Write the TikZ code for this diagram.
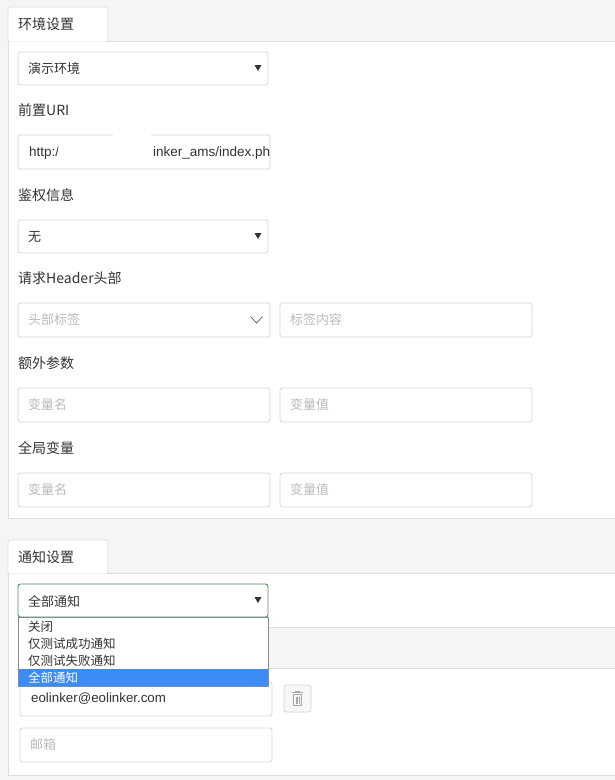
\documentclass[tikz,border=0pt]{standalone}
\usepackage{fontspec}
\setmainfont{Liberation Sans}
\newfontfamily\cjk{Noto Sans CJK SC}
\definecolor{bg}{HTML}{F5F5F5}
\definecolor{bd}{HTML}{DDDDDD}
\definecolor{ibd}{HTML}{D5D5D5}
\definecolor{txt}{HTML}{333333}
\definecolor{ph}{HTML}{BBBBBB}
\definecolor{hl}{HTML}{3D8BF5}
\definecolor{grn}{HTML}{5B8A5B}
\definecolor{lbd}{HTML}{7E8E9E}
\definecolor{band}{HTML}{F6F6F6}
\tikzset{
  inbox/.style={draw=ibd, fill=white, rounded corners=2.5pt, line width=0.8pt},
  lbl/.style={anchor=west, inner sep=0pt, text=txt, font=\cjk\fontsize{14}{16}\selectfont},
  val/.style={anchor=west, inner sep=0pt, text=txt, font=\cjk\fontsize{13}{15}\selectfont},
  phd/.style={anchor=west, inner sep=0pt, text=ph, font=\cjk\fontsize{13}{15}\selectfont},
  opt/.style={anchor=west, inner sep=0pt, text=txt, font=\cjk\fontsize{12.5}{14}\selectfont},
  tri/.style={fill=txt, draw=none},
}
\begin{document}
\begin{tikzpicture}[x=1pt,y=-1pt]
\useasboundingbox (0,0) rectangle (615,780);
\fill[bg] (0,0) rectangle (615,780);
% ---------- panel 1 ----------
\fill[white] (8,41) rectangle (620,518);
\draw[bd, line width=0.8pt] (8,518) -- (8,41) -- (620,41);
\draw[bd, line width=0.8pt] (8,518) -- (620,518);
\fill[white, rounded corners=2pt] (8,41.5) -- (8,7) -- (108,7) -- (108,41.5) -- cycle;
\draw[bd, line width=0.8pt, rounded corners=2pt] (8,41) -- (8,7) -- (108,7) -- (108,41);
\node[lbl] (tab1) at (18,24) {环境设置};
% env select
\draw[inbox] (18,52) rectangle (268,85);
\node[val] (envv) at (28,69) {演示环境};
\fill[tri] (254.5,65) -- (261.5,65) -- (258,71) -- cycle;
% URI
\node[lbl] (luri) at (18,110) {前置URI};
\draw[inbox] (18,135) rectangle (270,169);
\begin{scope}
\clip (19,136) rectangle (269,168);
\node[anchor=west, inner sep=0pt, text=txt, font=\fontsize{13.5}{15}\selectfont] (uri1) at (29,153) {http://};
\node[anchor=west, inner sep=0pt, text=txt, font=\fontsize{13.5}{15}\selectfont] (uri2) at (150,153) {linker\_ams/index.php};
\end{scope}
\fill[white, rounded corners=8pt] (60,140) rectangle (153,164);
\fill[white, rounded corners=8pt] (112,131) rectangle (152,161);
\fill[white, rounded corners=6pt] (58,143) rectangle (118,166);
% auth
\node[lbl] (lauth) at (18,195) {鉴权信息};
\draw[inbox] (18,220) rectangle (268,253);
\node[val] (authv) at (28,237) {无};
\fill[tri] (254.5,233) -- (261.5,233) -- (258,239) -- cycle;
% header
\node[lbl] (lhdr) at (18,278) {请求Header头部};
\draw[inbox] (18,303) rectangle (270,337);
\node[phd] (hk) at (28,320) {头部标签};
\draw[black!65, line width=0.7pt] (250.5,316.5) -- (256.5,323) -- (262.5,316.5);
\draw[inbox] (280,303) rectangle (532,337);
\node[phd] (hv) at (290,320) {标签内容};
% extra params
\node[lbl] (lext) at (18,363) {额外参数};
\draw[inbox] (18,388) rectangle (270,422);
\node[phd] (ek) at (28,405) {变量名};
\draw[inbox] (280,388) rectangle (532,422);
\node[phd] (ev) at (290,405) {变量值};
% global vars
\node[lbl] (lglb) at (18,448) {全局变量};
\draw[inbox] (18,473) rectangle (270,507);
\node[phd] (gk) at (28,490) {变量名};
\draw[inbox] (280,473) rectangle (532,507);
\node[phd] (gv) at (290,490) {变量值};
% ---------- panel 2 ----------
\fill[white] (8,573) rectangle (620,775);
\draw[bd, line width=0.8pt] (8,775) -- (8,573) -- (620,573);
\draw[bd, line width=0.8pt] (8,775) -- (620,775);
\fill[white, rounded corners=2pt] (8,573.5) -- (8,540) -- (108,540) -- (108,573.5) -- cycle;
\draw[bd, line width=0.8pt, rounded corners=2pt] (8,573) -- (8,540) -- (108,540) -- (108,573);
\node[lbl] (tab2) at (18,557) {通知设置};
% grey band behind dropdown
\fill[band] (20,627) rectangle (620,668);
\draw[bd, line width=0.8pt] (20,627) -- (620,627);
\draw[bd, line width=0.8pt] (20,668) -- (620,668);
% email input
\draw[inbox] (20,682) rectangle (272,716);
\node[anchor=west, inner sep=0pt, text=txt, font=\fontsize{13.3}{15}\selectfont] (mail) at (31,699) {eolinker@eolinker.com};
% trash button
\draw[draw=ibd, fill=bg!80!white, rounded corners=2.5pt, line width=0.8pt] (284,685) rectangle (311,712) node[pos=0.5] (trash) {};
\begin{scope}[draw=black!35, line width=0.8pt]
\draw (292,692.5) -- (303,692.5);
\draw (295.5,692.5) -- (295.5,691) -- (299.5,691) -- (299.5,692.5);
\draw (293.5,694.5) rectangle (301.5,705.5);
\draw (296,696.5) -- (296,703.5);
\draw (297.5,696.5) -- (297.5,703.5);
\draw (299,696.5) -- (299,703.5);
\end{scope}
% placeholder email
\draw[inbox] (20,728) rectangle (272,762);
\node[phd] (mailph) at (30,745) {邮箱};
% select (open)
\draw[draw=grn, fill=white, rounded corners=2.5pt, line width=0.9pt] (18,584) rectangle (268,617);
\node[val] (notv) at (28,601) {全部通知};
\fill[tri] (254.5,597) -- (261.5,597) -- (258,603) -- cycle;
% dropdown list
\fill[white] (18,617) rectangle (268,686);
\fill[hl] (18,669) rectangle (268,686);
\draw[lbd, line width=0.9pt] (18,617) rectangle (268,686);
\node[opt] (o1) at (28,627) {关闭};
\node[opt] (o2) at (28,644) {仅测试成功通知};
\node[opt] (o3) at (28,661) {仅测试失败通知};
\node[opt, text=white] (o4) at (28,677.5) {全部通知};
\end{tikzpicture}
\end{document}
